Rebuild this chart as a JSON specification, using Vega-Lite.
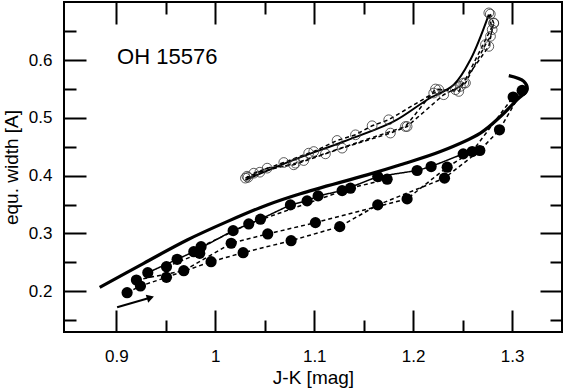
{
  "$schema": "https://vega.github.io/schema/vega-lite/v6.json",
  "width": 498,
  "height": 330,
  "autosize": {"type": "none"},
  "padding": {"left": 64, "top": 2, "right": 2, "bottom": 59},
  "background": "white",
  "config": {
    "view": {"stroke": "black", "strokeWidth": 2},
    "font": "Liberation Sans",
    "axis": {"domain": false, "grid": false, "tickColor": "black", "tickWidth": 2, "labelColor": "black", "titleColor": "black", "labelFont": "Liberation Sans", "titleFont": "Liberation Sans", "labelFontSize": 17, "titleFontSize": 19, "titleFontWeight": "normal", "labelOverlap": false, "labelFlush": false}
  },
  "datasets": {
    "filled": [
      {"s": "A", "i": 1, "x": 0.9108, "y": 0.1971},
      {"s": "A", "i": 2, "x": 0.9243, "y": 0.2087},
      {"s": "A", "i": 3, "x": 0.9506, "y": 0.2238},
      {"s": "A", "i": 4, "x": 0.9957, "y": 0.2509},
      {"s": "A", "i": 5, "x": 1.0281, "y": 0.2665},
      {"s": "A", "i": 6, "x": 1.0766, "y": 0.2873},
      {"s": "A", "i": 7, "x": 1.1258, "y": 0.3116},
      {"s": "A", "i": 8, "x": 1.1642, "y": 0.3493},
      {"s": "A", "i": 9, "x": 1.2317, "y": 0.3957},
      {"s": "A", "i": 10, "x": 1.2674, "y": 0.4436},
      {"s": "A", "i": 11, "x": 1.2873, "y": 0.4795},
      {"s": "A", "i": 12, "x": 1.3102, "y": 0.5477},
      {"s": "B", "i": 1, "x": 0.9202, "y": 0.2191},
      {"s": "B", "i": 2, "x": 0.9681, "y": 0.2353},
      {"s": "B", "i": 3, "x": 1.016, "y": 0.2828},
      {"s": "B", "i": 4, "x": 1.053, "y": 0.299},
      {"s": "B", "i": 5, "x": 1.1012, "y": 0.3186},
      {"s": "B", "i": 6, "x": 1.1939, "y": 0.3597},
      {"s": "B", "i": 7, "x": 1.2344, "y": 0.4147},
      {"s": "B", "i": 8, "x": 1.2597, "y": 0.4418},
      {"s": "B", "i": 9, "x": 1.3011, "y": 0.5363},
      {"s": "C", "i": 1, "x": 0.9317, "y": 0.2318},
      {"s": "C", "i": 2, "x": 0.9614, "y": 0.255},
      {"s": "C", "i": 3, "x": 0.9782, "y": 0.2682},
      {"s": "C", "i": 4, "x": 1.018, "y": 0.3047},
      {"s": "C", "i": 5, "x": 1.0456, "y": 0.3245},
      {"s": "C", "i": 6, "x": 1.0759, "y": 0.3493},
      {"s": "C", "i": 7, "x": 1.0928, "y": 0.3563},
      {"s": "C", "i": 8, "x": 1.1039, "y": 0.3649},
      {"s": "C", "i": 9, "x": 1.1282, "y": 0.3741},
      {"s": "C", "i": 10, "x": 1.1642, "y": 0.3984},
      {"s": "C", "i": 11, "x": 1.204, "y": 0.4089},
      {"s": "C", "i": 12, "x": 1.2182, "y": 0.4158},
      {"s": "C", "i": 13, "x": 1.2506, "y": 0.4378},
      {"s": "D", "i": 1, "x": 0.9506, "y": 0.2422},
      {"s": "D", "i": 2, "x": 0.9842, "y": 0.2654},
      {"s": "D", "i": 3, "x": 0.9856, "y": 0.2769},
      {"s": "D", "i": 4, "x": 1.0338, "y": 0.3163},
      {"s": "D", "i": 5, "x": 1.1366, "y": 0.3783},
      {"s": "D", "i": 6, "x": 1.1737, "y": 0.3939}
    ],
    "open": [
      {"s": "OA", "i": 1, "x": 1.0304, "y": 0.3957},
      {"s": "OA", "i": 2, "x": 1.0524, "y": 0.413},
      {"s": "OA", "i": 3, "x": 1.0793, "y": 0.4188},
      {"s": "OA", "i": 4, "x": 1.1113, "y": 0.4378},
      {"s": "OA", "i": 5, "x": 1.1282, "y": 0.4477},
      {"s": "OA", "i": 6, "x": 1.177, "y": 0.4738},
      {"s": "OA", "i": 7, "x": 1.1939, "y": 0.4852},
      {"s": "OA", "i": 8, "x": 1.2309, "y": 0.5403},
      {"s": "OA", "i": 9, "x": 1.2478, "y": 0.5547},
      {"s": "OA", "i": 10, "x": 1.2765, "y": 0.6241},
      {"s": "OA", "i": 11, "x": 1.2799, "y": 0.6531},
      {"s": "OA", "i": 12, "x": 1.2765, "y": 0.6821},
      {"s": "OB", "i": 1, "x": 1.0389, "y": 0.4043},
      {"s": "OB", "i": 2, "x": 1.0692, "y": 0.4228},
      {"s": "OB", "i": 3, "x": 1.0944, "y": 0.439},
      {"s": "OB", "i": 4, "x": 1.0995, "y": 0.4418},
      {"s": "OB", "i": 5, "x": 1.1231, "y": 0.461},
      {"s": "OB", "i": 6, "x": 1.1417, "y": 0.4708},
      {"s": "OB", "i": 7, "x": 1.1585, "y": 0.4865},
      {"s": "OB", "i": 8, "x": 1.1753, "y": 0.4969},
      {"s": "OB", "i": 9, "x": 1.2208, "y": 0.5432},
      {"s": "OB", "i": 10, "x": 1.2259, "y": 0.549},
      {"s": "OB", "i": 11, "x": 1.2428, "y": 0.549},
      {"s": "OB", "i": 12, "x": 1.2529, "y": 0.5606},
      {"s": "OB", "i": 13, "x": 1.2731, "y": 0.6271},
      {"s": "OB", "i": 14, "x": 1.2782, "y": 0.6415},
      {"s": "OB", "i": 15, "x": 1.2815, "y": 0.6647},
      {"s": "OC", "i": 1, "x": 1.032, "y": 0.399},
      {"s": "OC", "i": 2, "x": 1.033, "y": 0.397},
      {"s": "OC", "i": 3, "x": 1.045, "y": 0.406},
      {"s": "OC", "i": 4, "x": 1.081, "y": 0.4217},
      {"s": "OC", "i": 5, "x": 1.0894, "y": 0.4262},
      {"s": "OC", "i": 6, "x": 1.1922, "y": 0.4852},
      {"s": "OC", "i": 7, "x": 1.2226, "y": 0.5502},
      {"s": "OC", "i": 8, "x": 1.2461, "y": 0.546},
      {"s": "OC", "i": 9, "x": 1.2512, "y": 0.5606},
      {"s": "OC", "i": 10, "x": 1.2815, "y": 0.664},
      {"s": "OC", "i": 11, "x": 1.278, "y": 0.68}
    ],
    "models": [
      {"m": "lower", "i": 1, "x": 0.8831, "y": 0.2064},
      {"m": "lower", "i": 2, "x": 0.9276, "y": 0.2481},
      {"m": "lower", "i": 3, "x": 0.9715, "y": 0.2885},
      {"m": "lower", "i": 4, "x": 1.0119, "y": 0.3203},
      {"m": "lower", "i": 5, "x": 1.0524, "y": 0.3493},
      {"m": "lower", "i": 6, "x": 1.086, "y": 0.3687},
      {"m": "lower", "i": 7, "x": 1.1535, "y": 0.4014},
      {"m": "lower", "i": 8, "x": 1.1872, "y": 0.419},
      {"m": "lower", "i": 9, "x": 1.2276, "y": 0.4418},
      {"m": "lower", "i": 10, "x": 1.268, "y": 0.4738},
      {"m": "lower", "i": 11, "x": 1.2883, "y": 0.5026},
      {"m": "lower", "i": 12, "x": 1.3052, "y": 0.5316},
      {"m": "lower", "i": 13, "x": 1.3153, "y": 0.549},
      {"m": "lower", "i": 14, "x": 1.3119, "y": 0.5634},
      {"m": "lower", "i": 15, "x": 1.2967, "y": 0.5733},
      {"m": "upper", "i": 1, "x": 1.0304, "y": 0.3927},
      {"m": "upper", "i": 2, "x": 1.0793, "y": 0.4274},
      {"m": "upper", "i": 3, "x": 1.1298, "y": 0.4592},
      {"m": "upper", "i": 4, "x": 1.1804, "y": 0.4939},
      {"m": "upper", "i": 5, "x": 1.2142, "y": 0.5316},
      {"m": "upper", "i": 6, "x": 1.2411, "y": 0.5576},
      {"m": "upper", "i": 7, "x": 1.2579, "y": 0.601},
      {"m": "upper", "i": 8, "x": 1.2765, "y": 0.6792}
    ],
    "arrow": [
      {"i": 1, "x": 0.9007, "y": 0.172},
      {"i": 2, "x": 0.934, "y": 0.1885}
    ],
    "head": [{"x": 0.9344, "y": 0.1885}],
    "label": [{"x": 0.9007, "y": 0.6054, "t": "OH 15576"}]
  },
  "layer": [
    {
      "data": {"name": "filled"},
      "mark": {"type": "line", "color": "black", "strokeWidth": 1.5},
      "encoding": {
        "x": {"field": "x", "type": "quantitative", "scale": {"domain": [0.847, 1.3505], "nice": false, "zero": false},
          "axis": {"orient": "bottom", "values": [0.9, 1, 1.1, 1.2, 1.3], "format": "~g", "tickSize": -22, "labelPadding": 38, "title": "J-K  [mag]", "titlePadding": 4}},
        "y": {"field": "y", "type": "quantitative", "scale": {"domain": [0.129, 0.701], "nice": false, "zero": false},
          "axis": {"orient": "left", "values": [0.2, 0.3, 0.4, 0.5, 0.6], "format": ".1f", "tickSize": -22, "labelPadding": 34, "title": "equ. width  [A]", "titlePadding": 7}},
        "detail": {"field": "s"},
        "order": {"field": "i"},
        "strokeDash": {"field": "s", "scale": {"domain": ["A", "B", "C", "D"], "range": [[4, 3], [4, 3], [1, 0], [4, 3]]}, "legend": null}
      }
    },
    {
      "data": {"name": "open"},
      "mark": {"type": "line", "color": "black", "strokeWidth": 1.5, "strokeDash": [4, 3]},
      "encoding": {
        "x": {"field": "x", "type": "quantitative", "axis": {"orient": "top", "values": [0.9, 1, 1.1, 1.2, 1.3], "tickSize": -22, "labels": false, "title": null}},
        "y": {"field": "y", "type": "quantitative", "axis": {"orient": "right", "values": [0.2, 0.3, 0.4, 0.5, 0.6], "tickSize": -22, "labels": false, "title": null}},
        "detail": {"field": "s"},
        "order": {"field": "i"}
      }
    },
    {
      "data": {"name": "models"},
      "mark": {"type": "line", "color": "black", "interpolate": "catmull-rom"},
      "encoding": {
        "x": {"field": "x", "type": "quantitative", "axis": {"orient": "bottom", "values": [0.95, 1.05, 1.15, 1.25], "tickSize": -12, "labels": false, "title": null}},
        "y": {"field": "y", "type": "quantitative", "axis": {"orient": "left", "values": [0.15, 0.25, 0.35, 0.45, 0.55, 0.65], "tickSize": -12, "labels": false, "title": null}},
        "detail": {"field": "m"},
        "order": {"field": "i"},
        "strokeWidth": {"field": "m", "scale": {"domain": ["lower", "upper"], "range": [3.2, 2]}, "legend": null}
      }
    },
    {
      "data": {"name": "filled"},
      "mark": {"type": "point", "filled": true, "color": "black", "opacity": 1, "size": 125},
      "encoding": {
        "x": {"field": "x", "type": "quantitative", "axis": {"orient": "top", "values": [0.95, 1.05, 1.15, 1.25], "tickSize": -12, "labels": false, "title": null}},
        "y": {"field": "y", "type": "quantitative", "axis": {"orient": "right", "values": [0.15, 0.25, 0.35, 0.45, 0.55, 0.65], "tickSize": -12, "labels": false, "title": null}}
      }
    },
    {
      "data": {"name": "open"},
      "mark": {"type": "point", "filled": false, "color": "#333333", "strokeWidth": 0.8, "opacity": 1, "size": 95},
      "encoding": {
        "x": {"field": "x", "type": "quantitative", "axis": null},
        "y": {"field": "y", "type": "quantitative", "axis": null}
      }
    },
    {
      "data": {"name": "arrow"},
      "mark": {"type": "line", "color": "black", "strokeWidth": 2},
      "encoding": {
        "x": {"field": "x", "type": "quantitative", "axis": null},
        "y": {"field": "y", "type": "quantitative", "axis": null},
        "order": {"field": "i"}
      }
    },
    {
      "data": {"name": "head"},
      "mark": {"type": "point", "shape": "triangle-right", "filled": true, "color": "black", "opacity": 1, "size": 70, "angle": -17},
      "encoding": {
        "x": {"field": "x", "type": "quantitative", "axis": null},
        "y": {"field": "y", "type": "quantitative", "axis": null}
      }
    },
    {
      "data": {"name": "label"},
      "mark": {"type": "text", "align": "left", "baseline": "middle", "fontSize": 22, "font": "Liberation Sans", "color": "black"},
      "encoding": {
        "x": {"field": "x", "type": "quantitative", "axis": null},
        "y": {"field": "y", "type": "quantitative", "axis": null},
        "text": {"field": "t"}
      }
    }
  ],
  "resolve": {"axis": {"x": "independent", "y": "independent"}}
}
